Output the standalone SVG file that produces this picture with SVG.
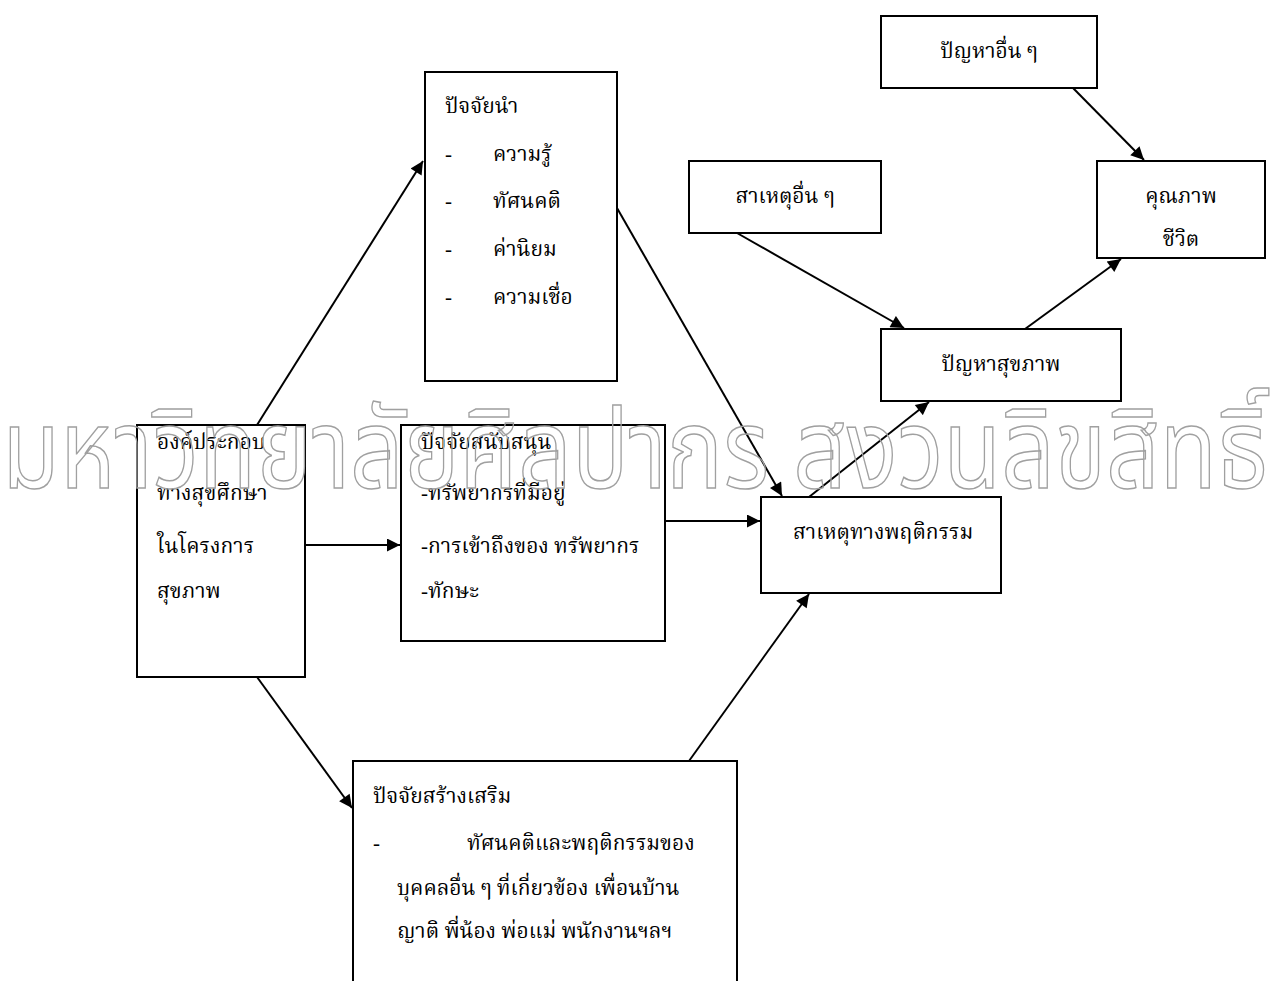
<svg xmlns="http://www.w3.org/2000/svg" width="1271" height="981" viewBox="0 0 1271 981">
<style>
.box{fill:#fff;stroke:#000;stroke-width:2}
.t{font-family:"Liberation Serif","Noto Serif Thai","Noto Sans Thai","DejaVu Serif",serif;font-size:21px;fill:#000}
.c{text-anchor:middle}
.ln{stroke:#000;stroke-width:2;fill:none;marker-end:url(#ah)}
.wm{font-family:"Noto Sans Thai","Noto Sans","DejaVu Sans",sans-serif;font-size:110px;fill:none;stroke:#a0a0a0;stroke-width:1.5}
</style>
<defs>
<marker id="ah" viewBox="0 0 10 10" refX="10" refY="5" markerWidth="15" markerHeight="13" markerUnits="userSpaceOnUse" orient="auto"><path d="M0,0 L10,5 L0,10 z" fill="#000"/></marker>
</defs>
<rect width="1271" height="981" fill="#fff"/>
<g id="n-other-problems"><rect class="box" x="881" y="16" width="216" height="72"/><text class="t c" x="989" y="58">ปัญหาอื่น ๆ</text></g>
<g id="n-other-causes"><rect class="box" x="689" y="161" width="192" height="72"/><text class="t c" x="785" y="203">สาเหตุอื่น ๆ</text></g>
<g id="n-quality"><rect class="box" x="1097" y="161" width="168" height="97"/><text class="t c" x="1181" y="203">คุณภาพ</text><text class="t c" x="1181" y="246">ชีวิต</text></g>
<g id="n-health-problem"><rect class="box" x="881" y="329" width="240" height="72"/><text class="t c" x="1001" y="371">ปัญหาสุขภาพ</text></g>
<g id="n-behavior"><rect class="box" x="761" y="497" width="240" height="96"/><text class="t" x="793" y="539">สาเหตุทางพฤติกรรม</text></g>
<g id="n-predisposing"><rect class="box" x="425" y="72" width="192" height="309"/>
<text class="t" x="445" y="113">ปัจจัยนำ</text>
<text class="t" x="445" y="161">-</text><text class="t" x="493" y="161">ความรู้</text>
<text class="t" x="445" y="208">-</text><text class="t" x="493" y="208">ทัศนคติ</text>
<text class="t" x="445" y="256">-</text><text class="t" x="493" y="256">ค่านิยม</text>
<text class="t" x="445" y="304">-</text><text class="t" x="493" y="304">ความเชื่อ</text></g>
<g id="n-component"><rect class="box" x="137" y="425" width="168" height="252"/>
<text class="t" x="157" y="449">องค์ประกอบ</text>
<text class="t" x="157" y="500">ทางสุขศึกษา</text>
<text class="t" x="157" y="553">ในโครงการ</text>
<text class="t" x="157" y="598">สุขภาพ</text></g>
<g id="n-enabling"><rect class="box" x="401" y="425" width="264" height="216"/>
<text class="t" x="421" y="449">ปัจจัยสนับสนุน</text>
<text class="t" x="421" y="500">-ทรัพยากรที่มีอยู่</text>
<text class="t" x="421" y="553">-การเข้าถึงของ ทรัพยากร</text>
<text class="t" x="421" y="598">-ทักษะ</text></g>
<g id="n-reinforcing"><rect class="box" x="353" y="761" width="384" height="230"/>
<text class="t" x="373" y="803">ปัจจัยสร้างเสริม</text>
<text class="t" x="373" y="850">-</text><text class="t" x="467" y="850">ทัศนคติและพฤติกรรมของ</text>
<text class="t" x="397" y="895">บุคคลอื่น ๆ ที่เกี่ยวข้อง เพื่อนบ้าน</text>
<text class="t" x="397" y="938">ญาติ พี่น้อง พ่อแม่ พนักงานฯลฯ</text></g>
<g id="connectors">
<line class="ln" x1="257" y1="425" x2="423" y2="161"/>
<line class="ln" x1="305" y1="545" x2="400" y2="545"/>
<line class="ln" x1="257" y1="677" x2="352" y2="808"/>
<line class="ln" x1="617" y1="208" x2="782" y2="496"/>
<line class="ln" x1="665" y1="521" x2="760" y2="521"/>
<line class="ln" x1="689" y1="761" x2="809" y2="594"/>
<line class="ln" x1="809" y1="497" x2="929" y2="402"/>
<line class="ln" x1="737" y1="233" x2="904" y2="328"/>
<line class="ln" x1="1025" y1="329" x2="1121" y2="259"/>
<line class="ln" x1="1073" y1="88" x2="1144" y2="160"/>
</g>
<text class="wm" x="2" y="488" textLength="1266" lengthAdjust="spacingAndGlyphs">มหาวิทยาลัยศิลปากร สงวนลิขสิทธิ์</text>
</svg>
